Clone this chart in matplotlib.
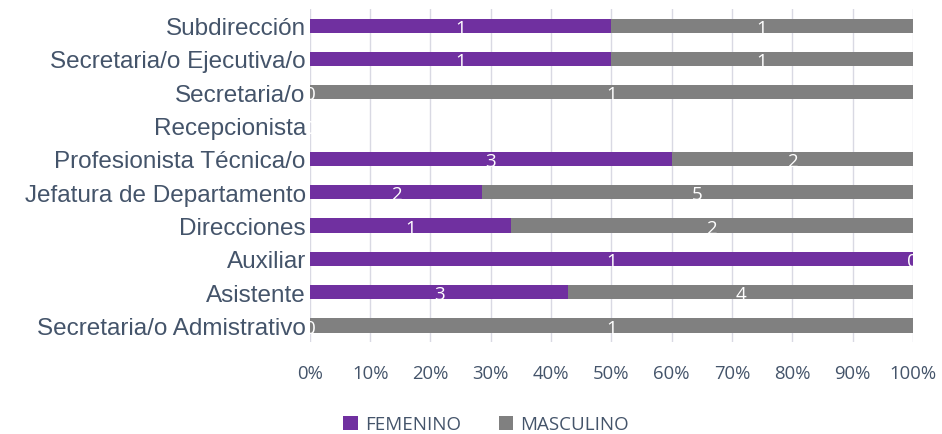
import numpy as np
import matplotlib.pyplot as plt

# data (top to bottom as shown in the chart)
categories = ['Subdirección', 'Secretaria/o Ejecutiva/o', 'Secretaria/o', 'Recepcionista',
              'Profesionista Técnica/o', 'Jefatura de Departamento', 'Direcciones',
              'Auxiliar', 'Asistente', 'Secretaria/o Admistrativo']
femenino = [1, 1, 0, 0, 3, 2, 1, 1, 3, 0]
masculino = [1, 1, 1, 0, 2, 5, 2, 0, 4, 1]

fem = np.array(femenino, dtype=float)
mas = np.array(masculino, dtype=float)
tot = fem + mas
safe = np.where(tot == 0, 1, tot)
fem_pct = fem / safe * 100
mas_pct = mas / safe * 100

fig = plt.figure(figsize=(9.42, 4.35), dpi=100)
ax = fig.add_axes([0.329, 0.211, 0.64, 0.766])

y = np.arange(len(categories))[::-1]
purple = '#7030A0'
gray = '#808080'
text_col = '#44546A'

ax.barh(y, fem_pct, height=0.43, color=purple, label='FEMENINO', zorder=3)
ax.barh(y, mas_pct, left=fem_pct, height=0.43, color=gray, label='MASCULINO', zorder=3)

# white value labels in the middle of each segment
for yi, fp, mp, f, m in zip(y, fem_pct, mas_pct, femenino, masculino):
    ax.text(fp / 2, yi - 0.06, str(f), color='white', ha='center', va='center',
            fontsize=13.5, family='Open Sans', zorder=4)
    ax.text(fp + mp / 2, yi - 0.06, str(m), color='white', ha='center', va='center',
            fontsize=13.5, family='Open Sans', zorder=4)

ax.set_xlim(0, 100)
ax.set_ylim(-0.5, len(categories) - 0.5)
ax.set_xticks(np.arange(0, 101, 10))
ax.set_xticklabels([f'{v}%' for v in range(0, 101, 10)], family='Open Sans',
                   fontsize=13.3, color=text_col)
ax.set_yticks(y)
ax.set_yticklabels(categories, family='Liberation Sans', fontsize=17.5, color=text_col)
ax.tick_params(length=0, pad=3)
ax.tick_params(axis='x', pad=16)
ax.xaxis.grid(True, color='#D9D9E3', linewidth=1, zorder=0)
for s in ax.spines.values():
    s.set_visible(False)

leg = fig.legend(loc='center', bbox_to_anchor=(0.516, 0.022), ncol=2, frameon=False,
                 prop={'family': 'Open Sans', 'size': 13.5}, handlelength=0.75,
                 handleheight=0.75, columnspacing=2.0, handletextpad=0.4,
                 borderpad=0.1)
for t in leg.get_texts():
    t.set_color(text_col)

fig.savefig('out.png', dpi=100)
